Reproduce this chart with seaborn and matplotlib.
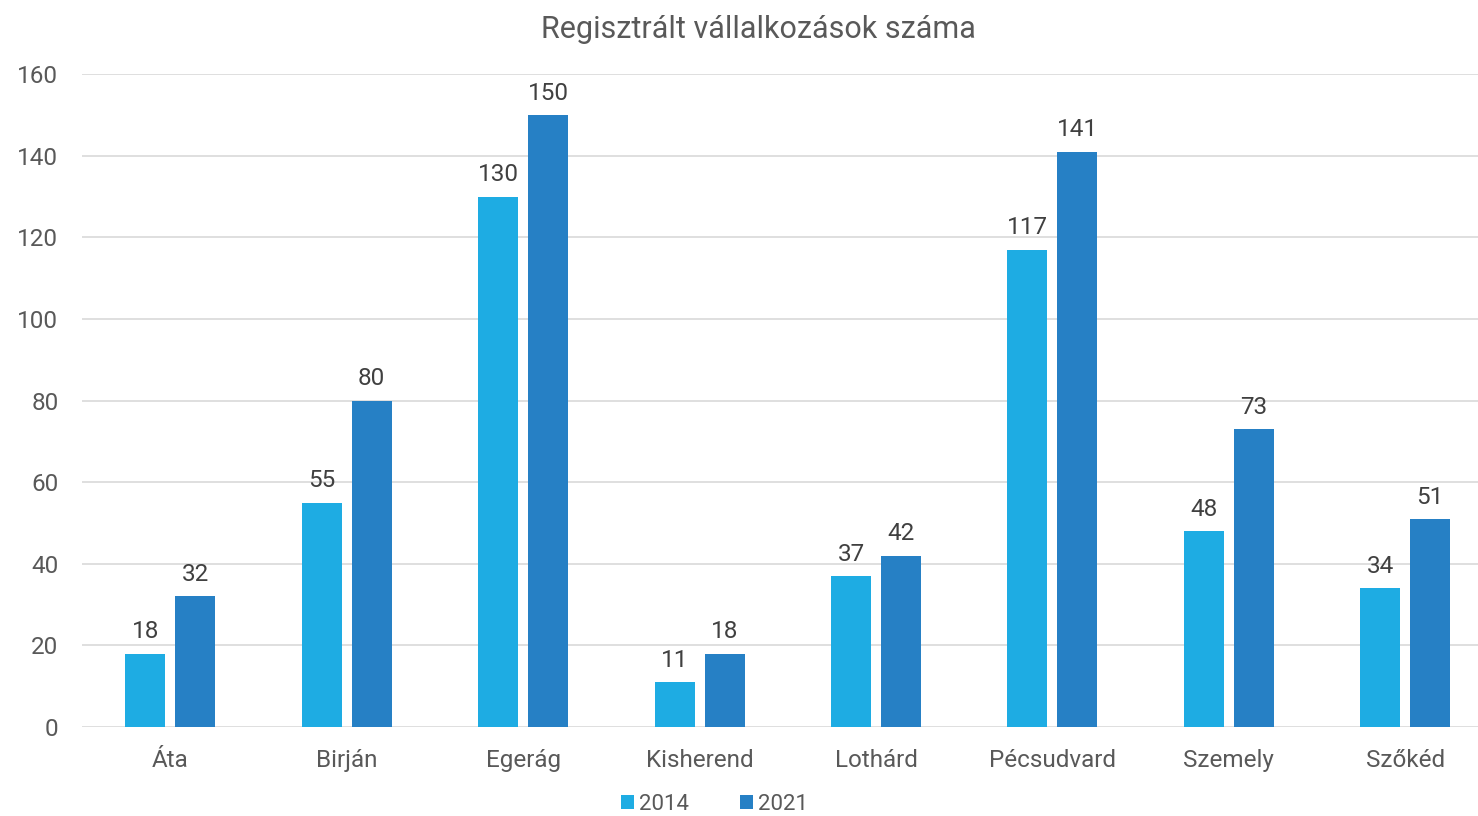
import pandas as pd
import matplotlib
matplotlib.use("Agg")
import matplotlib.pyplot as plt
import seaborn as sns

# Adatok
telepulesek = ['Áta', 'Birján', 'Egerág', 'Kisherend', 'Lothárd', 'Pécsudvard', 'Szemely', 'Szőkéd']
ev_2014 = [18, 55, 130, 11, 37, 117, 48, 34]
ev_2021 = [32, 80, 150, 18, 42, 141, 73, 51]
evek = ['2014', '2021']
szinek = ['#1EACE3', '#2680C5']

df = pd.DataFrame({
    'telepules': telepulesek * 2,
    'ev': ['2014'] * len(telepulesek) + ['2021'] * len(telepulesek),
    'db': ev_2014 + ev_2021,
})

sns.set_theme(style='white')
plt.rcParams['font.family'] = ['Roboto', 'DejaVu Sans']

fig = plt.figure(figsize=(14.78, 8.16), dpi=100)
ax = fig.add_axes([0.0555, 0.109, 0.955, 0.8])

sns.barplot(data=df, x='telepules', y='db', hue='ev', hue_order=evek,
            palette=szinek, width=0.567, gap=0.2, saturation=1,
            edgecolor='none', ax=ax)

for cont in ax.containers:
    ax.bar_label(cont, fmt='%d', padding=7.5, fontsize=17.5, color='#404040')

ax.set_ylim(0, 160)
ax.set_yticks(range(0, 161, 20))
ax.set_xlim(-0.5, len(telepulesek) - 0.5)
ax.yaxis.grid(True, color='#D9D9D9', linewidth=1.2)
ax.set_axisbelow(True)
for s in ax.spines.values():
    s.set_visible(False)
ax.tick_params(axis='both', length=0, labelsize=17.5, labelcolor='#595959')
ax.tick_params(axis='x', pad=16)
ax.tick_params(axis='y', pad=17)
ax.set_xlabel('')
ax.set_ylabel('')

ax.set_title('Regisztrált vállalkozások száma', fontsize=22, color='#595959',
             x=0.479, pad=26)

ax.legend(loc='center', bbox_to_anchor=(0.448, -0.119), ncol=2, frameon=False,
          fontsize=16, labelcolor='#595959', handlelength=0.6, handleheight=0.6,
          handletextpad=0.2, columnspacing=2.3)

fig.savefig('out.png', dpi=100)
